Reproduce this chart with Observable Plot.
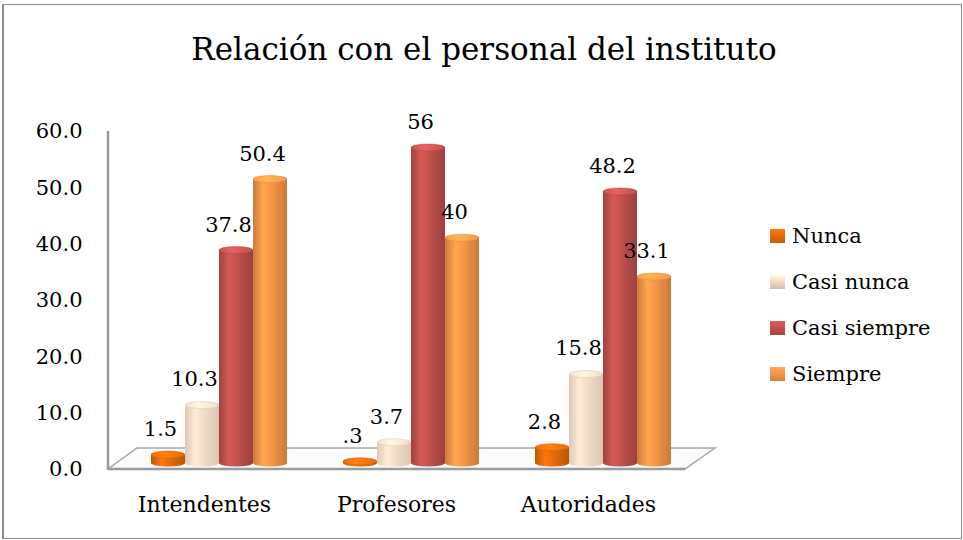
<!DOCTYPE html>
<html><head><meta charset="utf-8">
<script src="https://cdn.jsdelivr.net/npm/d3@7"></script>
<script src="https://cdn.jsdelivr.net/npm/@observablehq/plot@0.6"></script>
<style>
body{margin:0;background:#fff;}
#wrap{position:relative;width:963px;height:540px;overflow:hidden;font-family:"DejaVu Serif",serif;color:#000;}
#frame{position:absolute;left:2px;top:4px;width:957px;height:533px;border:1px solid #8c8c8c;border-left-width:2px;pointer-events:none;}
#title{position:absolute;left:0;top:31px;width:968px;text-align:center;font-size:31px;line-height:36px;white-space:nowrap;}
#chart{position:absolute;left:0;top:0;}
#legend{position:absolute;left:770px;top:213px;font-size:21px;}
.item{height:46px;line-height:46px;white-space:nowrap;}
.sw{display:inline-block;width:15px;height:14px;margin-right:7px;vertical-align:baseline;}
</style></head><body>
<div id="wrap"><div id="chart"></div><div id="title">Relación con el personal del instituto</div><div id="legend"></div><div id="frame"></div></div>
<script>
const categories = ["Intendentes", "Profesores", "Autoridades"];
const series = ["Nunca", "Casi nunca", "Casi siempre", "Siempre"];
const nunca = [1.5, 0.3, 2.8];
const casiNunca = [10.3, 3.7, 15.8];
const casiSiempre = [37.8, 56, 48.2];
const siempre = [50.4, 40, 33.1];
const yTicks = [0, 10, 20, 30, 40, 50, 60];
const colors = ["#E46C0A", "#F2DCC6", "#C0504D", "#F79646"];

const seriesValues = [nunca, casiNunca, casiSiempre, siempre];
const rows = categories.flatMap((c, i) => series.map((s, j) => ({cat: c, series: s, value: seriesValues[j][i]})));
const fmtLabel = v => String(v).replace(/^0\./, ".");

const marks = [];
series.forEach((s, j) => {
  marks.push(Plot.barY(rows.filter(d => d.series === s), {
    fx: "cat", x: "series", y: "value", fill: `url(#grad${j})`, dx: 15, dy: -3, className: `cyl cyl${j}`
  }));
});
marks.push(Plot.text(rows, {
  fx: "cat", x: "series", y: "value", text: d => fmtLabel(d.value),
  dx: 7, dy: -22, lineAnchor: "bottom", fontSize: 21, fill: "#000"
}));
marks.push(Plot.axisY(yTicks, {tickSize: 0, tickPadding: 26, tickFormat: d3.format(".1f"), fontSize: 21, dy: 3, label: null, fill: "#000"}));
marks.push(Plot.axisFx({anchor: "bottom", tickSize: 0, tickPadding: 30, fontSize: 22, label: null, fill: "#000"}));

const plot = Plot.plot({
  width: 714,
  height: 540,
  marginLeft: 108,
  marginRight: 30,
  marginTop: 128,
  marginBottom: 74,
  style: {background: "none", fontFamily: "DejaVu Serif", color: "#000", overflow: "visible"},
  fx: {domain: categories, padding: 0},
  x: {domain: series, paddingInner: 0, paddingOuter: 0.743, axis: null},
  y: {domain: [0, 60]},
  marks
});
document.getElementById("chart").appendChild(plot);

// gradients for cylinder-like bars
const svg = d3.select(plot);
const defs = svg.append("defs");
colors.forEach((c, j) => {
  const base = d3.color(c);
  const light = j === 1;
  const g = defs.append("linearGradient").attr("id", `grad${j}`).attr("x1", "0").attr("x2", "1").attr("y1", "0").attr("y2", "0");
  g.append("stop").attr("offset", "0%").attr("stop-color", base.darker(light ? 0.25 : 0.55).formatHex());
  g.append("stop").attr("offset", "30%").attr("stop-color", base.brighter(light ? 0.2 : 0.3).formatHex());
  g.append("stop").attr("offset", "55%").attr("stop-color", base.formatHex());
  g.append("stop").attr("offset", "100%").attr("stop-color", base.darker(light ? 0.3 : 0.6).formatHex());
  const t = defs.append("linearGradient").attr("id", `cap${j}`).attr("x1", "0").attr("x2", "1").attr("y1", "0").attr("y2", "0");
  t.append("stop").attr("offset", "0%").attr("stop-color", base.brighter(light ? 0.05 : 0.15).formatHex());
  t.append("stop").attr("offset", "40%").attr("stop-color", base.brighter(light ? 0.35 : 0.55).formatHex());
  t.append("stop").attr("offset", "100%").attr("stop-color", base.formatHex());
});

// cylinder caps on each rendered bar
svg.selectAll("g.cyl rect").each(function () {
  const r = d3.select(this);
  const x = +r.attr("x"), y = +r.attr("y"), w = +r.attr("width"), h = +r.attr("height");
  const j = +(this.parentNode.getAttribute("class").match(/cyl(\d)/) || [0, 0])[1];
  const parent = d3.select(this.parentNode);
  parent.insert("ellipse", () => this).attr("cx", x + w / 2).attr("cy", y + h).attr("rx", w / 2).attr("ry", 3.5).attr("fill", `url(#grad${j})`);
  parent.append("ellipse").attr("cx", x + w / 2).attr("cy", y).attr("rx", w / 2).attr("ry", 3.5).attr("fill", `url(#cap${j})`)
    .attr("stroke", d3.color(colors[j]).darker(0.3).formatHex()).attr("stroke-width", 0.5);
});

// 3D-style floor and vertical axis line, derived from the plot's scales
const fxS = plot.scale("fx"), yS = plot.scale("y");
const x0 = fxS.range[0], x1 = fxS.range[1];
const y0 = yS.apply(0), yTop = yS.apply(60);
const floor = svg.insert("g", ":first-child");
floor.append("polygon")
  .attr("points", [[x0, y0 + 3], [x1 + 1, y0 + 3], [x1 + 31, y0 - 18], [x0 + 29, y0 - 18]].map(p => p.join(",")).join(" "))
  .attr("fill", "#fbfbfb").attr("stroke", "#a6a6a6").attr("stroke-width", 1.5);
floor.append("line").attr("x1", x0).attr("x2", x1 + 1).attr("y1", y0 + 3).attr("y2", y0 + 3).attr("stroke", "#9a9a9a").attr("stroke-width", 2.5);
floor.append("line").attr("x1", x0).attr("x2", x0).attr("y1", yTop + 3).attr("y2", y0 + 3).attr("stroke", "#9a9a9a").attr("stroke-width", 2.5);

// legend
const legend = d3.select("#legend");
series.forEach((s, j) => {
  const c = d3.color(colors[j]);
  const item = legend.append("div").attr("class", "item");
  item.append("span").attr("class", "sw")
    .style("background", `linear-gradient(180deg, ${c.brighter(0.4).formatHex()} 0%, ${c.formatHex()} 45%, ${c.darker(0.4).formatHex()} 100%)`);
  item.append("span").text(s);
});
</script>
</body></html>
